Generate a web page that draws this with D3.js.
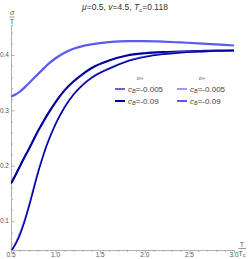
<!DOCTYPE html>
<html>
<head>
<meta charset="utf-8">
<script src="https://cdn.jsdelivr.net/npm/d3@7"></script>
<style>
  body { margin: 0; background: #fff; }
  text { font-family: "Liberation Sans", Arial, sans-serif; }
</style>
</head>
<body>
<div class="visualisation"></div>
<script>
// Data
const temps = [0.5, 0.55, 0.6, 0.65, 0.7, 0.75, 0.8, 0.85, 0.9, 1.0, 1.1, 1.2, 1.3, 1.4, 1.6, 1.8, 2.0, 2.2, 2.4, 2.6, 2.8, 3.0];
const darkThin  = [0.045, 0.058, 0.075, 0.098, 0.125, 0.155, 0.185, 0.212, 0.236, 0.275, 0.305, 0.328, 0.345, 0.358, 0.375, 0.388, 0.396, 0.401, 0.404, 0.406, 0.407, 0.408];
const lightThin = [0.047, 0.060, 0.078, 0.101, 0.128, 0.158, 0.188, 0.214, 0.238, 0.276, 0.306, 0.329, 0.346, 0.359, 0.376, 0.389, 0.397, 0.402, 0.405, 0.406, 0.407, 0.408];
const darkThick = [0.168, 0.183, 0.199, 0.215, 0.230, 0.246, 0.262, 0.276, 0.290, 0.315, 0.336, 0.352, 0.365, 0.376, 0.390, 0.399, 0.403, 0.405, 0.406, 0.407, 0.408, 0.408];
const lightThick = [0.325, 0.3285, 0.334, 0.341, 0.349, 0.357, 0.365, 0.373, 0.381, 0.394, 0.404, 0.411, 0.416, 0.419, 0.423, 0.425, 0.425, 0.424, 0.4225, 0.421, 0.419, 0.417];

const legendHeaders = ["σ∞", "σ∞"];
const legendLabels = ["-0.005", "-0.09"];
const xTicks = [0.5, 1.0, 1.5, 2.0, 2.5, 3.0];
const yTicks = [0.1, 0.2, 0.3, 0.4];

const width = 249, height = 259;
const dark = "#00009c", light = "#5a5af2";

const svg = d3.select(".visualisation")
    .append("svg")
    .attr("width", width)
    .attr("height", height);

const x = d3.scaleLinear().domain([0.5, 3.0]).range([11, 234]);
const y = d3.scaleLinear().domain([0.048, 0.454]).range([250, 25]);

// clip for curves
svg.append("clipPath").attr("id", "clip")
    .append("rect")
    .attr("x", x(0.5)).attr("y", 0)
    .attr("width", x(3.0) - x(0.5) + 2).attr("height", y(0.048));

// axes
const axisColor = "#b0b0b0";
const xAxis = svg.append("g").attr("transform", `translate(0,${y(0.048)})`);
xAxis.call(d3.axisBottom(x).tickValues(d3.range(0.5, 3.001, 0.1)).tickSize(2).tickFormat(""));
xAxis.call(g => g.selectAll(".tick line").attr("stroke", axisColor));
xAxis.selectAll(".tick").filter(d => xTicks.some(t => Math.abs(t - d) < 1e-6)).select("line").attr("y2", 3.5);
xAxis.select(".domain").attr("stroke", axisColor);
svg.append("g").selectAll("text").data(xTicks).join("text")
    .attr("x", d => x(d)).attr("y", 257)
    .attr("text-anchor", "middle")
    .attr("font-size", 6.5).attr("fill", "#555")
    .text(d => d.toFixed(1));

const yAxis = svg.append("g").attr("transform", `translate(${x(0.5)},0)`);
yAxis.call(d3.axisRight(y).tickValues(d3.range(0.06, 0.4541, 0.02)).tickSize(2).tickFormat(""));
yAxis.call(g => g.selectAll(".tick line").attr("stroke", axisColor));
yAxis.selectAll(".tick").filter(d => yTicks.some(t => Math.abs(t - d) < 1e-6)).select("line").attr("x2", 3.5);
yAxis.select(".domain").attr("stroke", axisColor);
svg.append("g").selectAll("text").data(yTicks).join("text")
    .attr("x", 9).attr("y", d => y(d) + 2.3)
    .attr("text-anchor", "end")
    .attr("font-size", 6.5).attr("fill", "#555")
    .text(d => d.toFixed(1));

// axis labels
const yl = svg.append("g").attr("fill", "#555").attr("font-size", 7).attr("text-anchor", "middle");
yl.append("text").attr("x", 12).attr("y", 15).attr("font-style", "italic").text("σ");
yl.append("line").attr("x1", 9.5).attr("x2", 14.5).attr("y1", 17).attr("y2", 17).attr("stroke", "#555").attr("stroke-width", 0.6);
yl.append("text").attr("x", 12).attr("y", 23.5).text("T");

const xl = svg.append("g").attr("fill", "#555").attr("font-size", 7).attr("text-anchor", "middle");
xl.append("text").attr("x", 242).attr("y", 247).text("T");
xl.append("line").attr("x1", 238.5).attr("x2", 246).attr("y1", 248.5).attr("y2", 248.5).attr("stroke", "#555").attr("stroke-width", 0.6);
const xlb = xl.append("text").attr("x", 242).attr("y", 255.5);
xlb.append("tspan").text("T");
xlb.append("tspan").attr("font-size", 5).attr("dy", 1).text("c");

// title
const title = svg.append("text").attr("x", 125).attr("y", 10)
    .attr("text-anchor", "middle").attr("font-size", 8.5).attr("fill", "#333");
title.append("tspan").attr("font-style", "italic").text("μ");
title.append("tspan").text("=0.5, ");
title.append("tspan").attr("font-style", "italic").text("v");
title.append("tspan").text("=4.5, ");
title.append("tspan").attr("font-style", "italic").text("T");
title.append("tspan").attr("font-size", 6).attr("dy", 1.5).attr("font-style", "italic").text("c");
title.append("tspan").attr("dy", -1.5).text("=0.118");

// curves
const line = d3.line()
    .x((d, i) => x(temps[i]))
    .y(d => y(d))
    .curve(d3.curveMonotoneX);

const series = [
    { values: lightThick, color: light, w: 2.2 },
    { values: darkThick, color: dark, w: 2.2 },
    { values: lightThin, color: light, w: 1.6 },
    { values: darkThin, color: dark, w: 1.4 }
];
svg.append("g").attr("clip-path", "url(#clip)")
    .selectAll("path").data(series).join("path")
    .attr("d", d => line(d.values))
    .attr("fill", "none")
    .attr("stroke", d => d.color)
    .attr("stroke-width", d => d.w);

// legend
const cols = [{ color: dark, x: 115 }, { color: light, x: 177 }];
const legend = svg.append("g");
cols.forEach((c, ci) => {
    legend.append("text").attr("x", c.x + 25).attr("y", 80)
        .attr("text-anchor", "middle").attr("font-size", 5).attr("fill", "#555")
        .text(legendHeaders[ci]);
    legendLabels.forEach((lab, ri) => {
        const yy = 89 + ri * 12;
        legend.append("line")
            .attr("x1", c.x).attr("x2", c.x + 10)
            .attr("y1", yy).attr("y2", yy)
            .attr("stroke", c.color).attr("stroke-width", ri === 0 ? 1.2 : 2);
        const t = legend.append("text").attr("x", c.x + 13).attr("y", yy + 2.8)
            .attr("font-size", 8).attr("fill", "#444");
        t.append("tspan").attr("font-style", "italic").text("c");
        t.append("tspan").attr("font-size", 5.5).attr("dy", 1.5).attr("font-style", "italic").text("B");
        t.append("tspan").attr("dy", -1.5).text("=" + lab);
    });
});
</script>
</body>
</html>
